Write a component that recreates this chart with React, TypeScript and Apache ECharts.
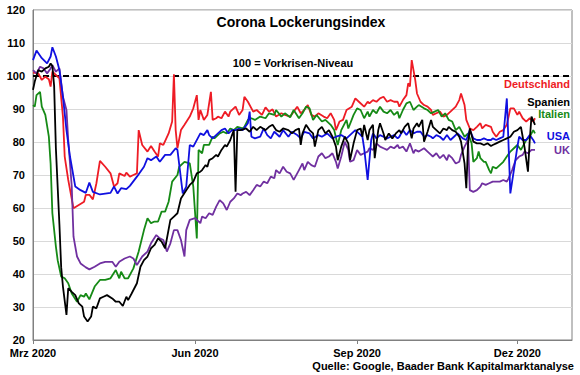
import React, { useEffect, useRef } from "react";
import * as echarts from "echarts";

// x = days since 1 Mar 2020
const tickDays = [0, 92, 184, 275];
const tickLabels = ["Mrz 2020", "Jun 2020", "Sep 2020", "Dez 2020"];
const yTicks = { min: 20, max: 120, step: 10 };

const deutschland: [number, number][] = [
  [0,101.0],[3,100.8],[5,98.8],[7,99.8],[9,99.0],[10,96.8],[11,101.3],[13,100.3],[15,99.3],[17,87.7],[18,75.6],[20,68.5],[23,59.9],[26,60.9],[29,61.9],[30,64.0],[32,64.0],[34,62.6],[36,67.5],[38,74.3],[41,72.5],[44,70.5],[46,66.5],[48,67.5],[49,70.5],[52,69.7],[53,70.7],[55,69.5],[57,70.0],[59,70.5],[60,83.6],[62,79.1],[65,77.1],[67,78.8],[69,77.1],[71,75.6],[72,79.6],[74,79.1],[77,82.6],[79,86.2],[80,100.5],[81,83.6],[82,78.1],[84,83.6],[86,85.2],[89,87.7],[91,90.2],[93,94.2],[94,86.7],[95,89.7],[97,86.7],[99,88.2],[101,95.2],[102,86.7],[104,87.2],[105,87.7],[107,87.2],[109,89.2],[111,87.7],[112,89.2],[115,90.7],[117,88.2],[119,89.7],[120,93.7],[122,92.2],[125,89.2],[127,89.7],[130,88.2],[132,90.5],[134,89.2],[136,89.9],[138,87.7],[141,88.7],[143,88.2],[146,87.7],[148,89.2],[150,90.7],[152,88.7],[154,89.7],[156,91.2],[158,88.2],[160,87.7],[162,88.7],[165,87.7],[167,87.2],[169,88.7],[171,86.7],[172,83.6],[174,86.2],[176,86.7],[178,89.7],[181,90.7],[183,93.2],[185,92.2],[188,90.7],[190,92.2],[191,91.7],[193,92.7],[195,92.2],[197,93.2],[199,93.7],[201,92.2],[203,92.7],[205,92.2],[207,92.2],[208,90.7],[210,92.7],[212,94.2],[213,97.8],[214,96.8],[215,104.8],[217,98.8],[218,94.7],[220,92.2],[222,91.2],[224,90.7],[226,89.7],[227,88.2],[229,88.7],[231,89.2],[233,87.7],[235,88.2],[237,89.2],[240,90.7],[242,92.7],[243,94.7],[245,91.2],[246,86.7],[248,84.1],[250,83.6],[252,84.6],[254,85.7],[255,84.1],[257,85.2],[260,84.6],[261,83.1],[263,81.6],[265,83.1],[267,83.6],[269,85.2],[271,90.2],[273,90.2],[275,88.2],[276,89.2],[278,87.2],[280,86.2],[282,87.2],[284,86.2],[285,87.2]
];

const italien: [number, number][] = [
  [0,91.2],[1,90.7],[2,94.2],[4,95.2],[5,90.7],[7,88.2],[9,81.6],[10,73.5],[11,58.4],[13,48.3],[14,44.2],[16,39.2],[18,38.7],[20,37.2],[22,34.1],[25,31.6],[27,33.6],[29,33.1],[30,34.1],[32,32.3],[35,36.2],[38,38.2],[41,38.2],[44,38.7],[47,41.2],[49,38.7],[50,40.7],[52,38.7],[54,38.7],[57,41.7],[60,46.8],[63,53.3],[65,56.9],[67,55.4],[69,55.9],[71,55.9],[73,58.9],[75,58.9],[77,61.9],[79,68.0],[82,70.0],[83,72.5],[86,74.0],[89,73.5],[91,66.5],[93,50.8],[94,77.6],[96,76.6],[97,79.1],[100,79.1],[102,81.6],[103,81.1],[106,82.6],[108,83.1],[110,82.6],[112,84.1],[114,83.6],[116,84.6],[119,84.1],[120,84.6],[122,86.7],[124,87.2],[126,86.7],[129,87.7],[132,87.2],[134,88.7],[137,88.2],[138,89.7],[141,87.7],[143,88.7],[146,87.5],[148,89.7],[151,87.2],[153,88.7],[155,90.7],[157,90.2],[159,86.7],[161,88.2],[164,86.2],[166,86.7],[169,85.2],[171,83.6],[173,79.1],[175,83.6],[178,86.7],[179,84.1],[182,88.2],[184,90.2],[186,89.7],[188,87.2],[190,89.2],[191,87.7],[193,89.7],[195,88.7],[197,90.7],[199,89.2],[201,88.7],[203,89.7],[205,88.2],[207,89.2],[208,87.2],[210,89.7],[212,91.7],[214,92.2],[216,89.7],[218,90.7],[219,91.2],[222,90.2],[224,89.7],[226,88.7],[228,89.2],[230,89.7],[232,87.7],[234,88.7],[236,86.7],[238,86.2],[240,83.6],[242,84.6],[243,83.6],[245,81.6],[247,82.6],[249,79.6],[250,74.0],[252,75.1],[253,77.1],[254,75.1],[256,74.0],[257,74.0],[259,71.5],[260,70.5],[261,72.5],[263,72.0],[265,73.0],[267,74.0],[269,75.6],[271,77.1],[273,78.1],[275,79.1],[277,77.6],[279,79.6],[280,80.6],[282,81.6],[284,83.6],[285,82.6]
];

const spanien: [number, number][] = [
  [0,95.8],[1,98.3],[3,101.8],[5,101.3],[7,102.3],[9,102.8],[10,103.8],[11,103.0],[12,97.0],[13,78.0],[15,55.0],[16,42.0],[17,36.2],[19,27.6],[20,35.7],[22,34.6],[24,33.6],[26,31.1],[28,30.1],[29,27.1],[31,25.6],[33,27.1],[34,30.1],[36,29.6],[38,32.6],[40,33.1],[42,33.6],[45,32.6],[47,31.6],[49,31.6],[51,30.3],[53,33.1],[54,32.1],[56,34.1],[59,37.2],[61,42.2],[63,44.2],[65,45.3],[67,47.8],[69,48.8],[71,50.8],[73,49.8],[75,47.8],[78,56.4],[80,57.4],[82,58.4],[84,62.9],[87,65.4],[89,67.0],[91,68.0],[93,70.5],[95,71.0],[96,71.5],[98,73.0],[99,72.5],[100,74.5],[102,75.1],[104,76.1],[105,75.6],[107,77.6],[109,79.1],[110,78.6],[112,80.6],[114,83.6],[115,64.9],[116,83.6],[118,83.6],[121,84.1],[123,83.1],[125,84.6],[127,83.6],[129,84.6],[132,83.6],[134,84.6],[136,85.2],[138,83.6],[140,83.1],[142,84.1],[145,83.6],[147,82.6],[149,83.6],[151,84.1],[152,79.1],[153,82.6],[155,85.2],[157,83.6],[159,82.6],[160,78.6],[162,83.6],[164,84.6],[166,82.6],[168,83.6],[170,81.6],[172,78.6],[173,74.5],[175,78.6],[177,81.6],[179,79.6],[180,74.5],[182,79.6],[184,83.6],[186,84.1],[187,81.6],[188,85.2],[190,80.6],[191,83.6],[193,85.2],[194,75.1],[196,83.6],[197,85.7],[199,82.6],[200,80.6],[202,82.6],[204,81.1],[206,82.6],[208,83.6],[209,82.6],[211,84.6],[213,85.7],[215,81.1],[216,84.1],[218,85.7],[219,84.6],[221,86.7],[222,80.1],[224,83.1],[226,86.7],[227,84.6],[229,83.6],[231,82.6],[233,84.1],[235,83.6],[236,84.6],[238,83.6],[240,83.1],[242,81.6],[243,80.1],[245,73.5],[246,66.0],[247,79.6],[248,84.1],[250,80.1],[252,79.6],[254,79.6],[256,79.1],[258,79.6],[260,78.8],[261,79.1],[263,79.6],[265,80.1],[267,80.6],[269,81.1],[271,81.6],[273,83.1],[275,83.6],[277,84.6],[278,81.6],[279,78.6],[281,71.0],[282,80.6],[283,87.7],[285,85.2]
];

const usa: [number, number][] = [
  [0,104.8],[2,107.7],[5,105.4],[8,103.8],[10,105.9],[11,108.7],[13,105.9],[15,101.8],[17,93.7],[19,83.6],[21,75.6],[24,66.5],[27,65.4],[30,64.6],[32,67.7],[34,64.9],[38,64.1],[44,64.6],[46,66.5],[48,64.4],[50,66.0],[53,65.7],[55,66.7],[59,69.5],[63,72.5],[65,75.1],[67,74.5],[70,75.6],[72,74.0],[75,76.1],[78,76.1],[81,78.1],[82,77.6],[85,64.4],[87,66.5],[89,79.1],[91,78.6],[95,82.6],[97,82.1],[99,83.6],[100,82.1],[102,81.1],[105,82.6],[107,83.6],[109,84.1],[111,82.6],[113,83.6],[115,83.6],[117,84.1],[119,83.6],[122,85.7],[123,89.2],[124,81.6],[126,81.1],[129,81.6],[131,84.1],[133,82.1],[135,81.1],[137,83.1],[140,81.6],[142,83.6],[145,81.6],[147,83.1],[150,82.1],[152,81.1],[154,83.1],[157,82.6],[159,81.1],[162,82.1],[164,81.6],[167,82.6],[170,81.1],[172,81.6],[175,82.1],[178,81.1],[181,82.6],[183,83.6],[185,82.6],[187,81.6],[188,78.1],[190,68.5],[192,80.6],[193,82.6],[195,81.1],[197,82.1],[199,81.6],[201,81.1],[203,81.6],[205,82.1],[207,81.1],[208,81.6],[210,83.6],[212,82.1],[214,83.6],[216,82.6],[218,83.1],[220,83.1],[222,81.6],[224,82.1],[226,81.6],[227,81.1],[229,82.1],[231,81.6],[233,80.6],[235,82.1],[237,80.6],[239,81.6],[241,82.6],[243,81.6],[244,81.1],[246,80.6],[248,83.6],[250,81.1],[252,80.6],[254,80.6],[256,81.1],[258,80.6],[260,80.6],[261,81.1],[263,80.6],[265,81.1],[267,81.6],[269,93.2],[271,64.4],[273,71.5],[275,78.6],[276,81.6],[278,80.6],[280,80.6],[282,82.1],[284,80.6],[285,79.6]
];

const uk: [number, number][] = [
  [0,101.8],[2,100.8],[4,102.8],[6,102.3],[8,100.8],[10,102.3],[11,103.3],[13,101.3],[15,102.3],[17,93.7],[19,89.7],[20,80.6],[22,66.5],[23,51.3],[25,45.3],[27,43.2],[30,42.0],[32,41.4],[35,42.2],[38,43.2],[41,43.7],[45,43.7],[47,42.2],[49,43.7],[52,44.7],[55,45.3],[57,44.7],[59,42.7],[62,45.3],[65,46.8],[67,49.3],[70,51.8],[72,50.8],[74,50.3],[76,46.8],[78,49.3],[80,53.3],[82,53.3],[84,50.3],[86,45.3],[87,53.3],[89,56.4],[92,56.9],[95,55.4],[96,57.4],[98,56.9],[100,58.4],[102,57.9],[104,60.4],[106,62.4],[108,61.4],[110,59.4],[112,61.9],[114,62.9],[116,64.4],[118,63.9],[119,64.4],[121,64.9],[123,63.9],[125,65.4],[127,67.0],[129,66.5],[131,68.0],[133,67.5],[135,69.5],[137,69.0],[138,71.5],[140,70.5],[142,72.5],[144,71.0],[146,70.5],[148,68.5],[151,71.5],[153,73.5],[154,71.5],[156,74.0],[158,73.0],[160,72.5],[162,75.6],[164,76.6],[166,75.1],[168,75.6],[170,76.6],[172,74.0],[173,72.0],[175,75.6],[177,80.1],[179,77.6],[180,74.0],[182,74.5],[184,77.6],[186,76.1],[188,76.6],[190,77.1],[191,78.1],[193,77.6],[195,79.6],[197,78.6],[199,78.1],[201,77.6],[203,78.6],[205,78.1],[207,79.1],[208,78.1],[210,78.6],[212,77.1],[214,79.6],[216,76.6],[217,77.6],[219,77.1],[222,78.1],[224,77.1],[226,76.1],[227,75.6],[229,76.6],[231,75.1],[233,76.1],[235,74.5],[236,76.1],[238,75.1],[240,73.5],[242,74.0],[243,76.1],[245,78.6],[247,80.6],[248,65.4],[250,64.9],[252,65.4],[254,66.5],[255,67.5],[257,67.0],[259,67.5],[261,68.0],[263,68.0],[265,68.0],[267,68.5],[269,68.0],[270,69.0],[272,71.5],[274,74.5],[276,75.6],[278,76.1],[279,77.1],[281,76.6],[283,77.6],[285,77.6]
];

const seriesNames = ["Deutschland", "Italien", "UK", "USA", "Spanien"];
const seriesColors = ["#ee1c25", "#168a16", "#7030a0", "#1010e0", "#000000"];
const seriesData = [deutschland, italien, uk, usa, spanien];

const labelNames = ["Deutschland", "Spanien", "Italien", "USA", "UK"];
const labelColors = ["#ee1c25", "#000000", "#168a16", "#1010e0", "#7030a0"];
const labelY = [84, 102, 114, 136, 150];

const FONT = '"Liberation Sans", Arial, sans-serif';

export default function App() {
  const ref = useRef<HTMLDivElement>(null);
  useEffect(() => {
    const chart = echarts.init(ref.current!, null, { renderer: "svg" });
    const series: any[] = seriesData.map((d, i) => ({
      name: seriesNames[i],
      type: "line",
      data: d,
      symbol: "none",
      showSymbol: false,
      lineStyle: { color: seriesColors[i], width: 1.8 },
      itemStyle: { color: seriesColors[i] },
      z: 3 + i,
    }));
    series[0].markLine = {
      silent: true,
      symbol: "none",
      label: { show: false },
      lineStyle: { type: [6, 4], color: "#000", width: 1.8 },
      data: [{ yAxis: 100 }],
      z: 2,
    };
    const graphics: any[] = [
      {
        type: "text",
        x: 301,
        y: 22,
        style: {
          text: "Corona Lockerungsindex",
          fill: "#000",
          font: `bold 14px ${FONT}`,
          textAlign: "center",
          textVerticalAlign: "middle",
        },
      },
      {
        type: "text",
        x: 293,
        y: 63,
        style: {
          text: "100 = Vorkrisen-Niveau",
          fill: "#000",
          font: `bold 11px ${FONT}`,
          textAlign: "center",
          textVerticalAlign: "middle",
        },
      },
      {
        type: "text",
        x: 574,
        y: 366,
        style: {
          text: "Quelle: Google, Baader Bank Kapitalmarktanalyse",
          fill: "#000",
          font: `bold 11px ${FONT}`,
          textAlign: "right",
          textVerticalAlign: "middle",
        },
      },
      ...labelNames.map((t, i) => ({
        type: "text",
        x: 570,
        y: labelY[i],
        z: 100,
        style: {
          text: t,
          fill: labelColors[i],
          font: `bold 11px ${FONT}`,
          textAlign: "right",
          textVerticalAlign: "middle",
        },
      })),
    ];
    chart.setOption({
      animation: false,
      backgroundColor: "#fff",
      grid: {
        left: 33,
        right: 8,
        top: 10,
        bottom: 35,
        show: true,
        borderColor: "#808080",
        borderWidth: 1,
      },
      xAxis: {
        type: "value",
        min: 0,
        max: 306,
        splitLine: { show: false },
        axisLine: { show: true, lineStyle: { color: "#808080" } },
        axisTick: {
          show: true,
          length: 4,
          lineStyle: { color: "#808080" },
          customValues: tickDays,
        },
        axisLabel: {
          customValues: tickDays,
          margin: 7,
          color: "#000",
          fontWeight: "bold",
          fontSize: 11,
          fontFamily: FONT,
          formatter: (v: number) => {
            const i = tickDays.indexOf(Math.round(v));
            return i >= 0 ? tickLabels[i] : "";
          },
        },
      },
      yAxis: {
        type: "value",
        min: yTicks.min,
        max: yTicks.max,
        interval: yTicks.step,
        axisLine: { show: true, lineStyle: { color: "#808080" } },
        axisTick: { show: false },
        splitLine: { show: true, lineStyle: { color: "#d9d9d9", width: 1 } },
        axisLabel: {
          margin: 8,
          color: "#000",
          fontWeight: "bold",
          fontSize: 11,
          fontFamily: FONT,
        },
      },
      graphic: graphics,
      series,
    });
    return () => chart.dispose();
  }, []);
  return (
    <div
      ref={ref}
      style={{ position: "absolute", left: 0, top: 0, width: 580, height: 375 }}
    />
  );
}
